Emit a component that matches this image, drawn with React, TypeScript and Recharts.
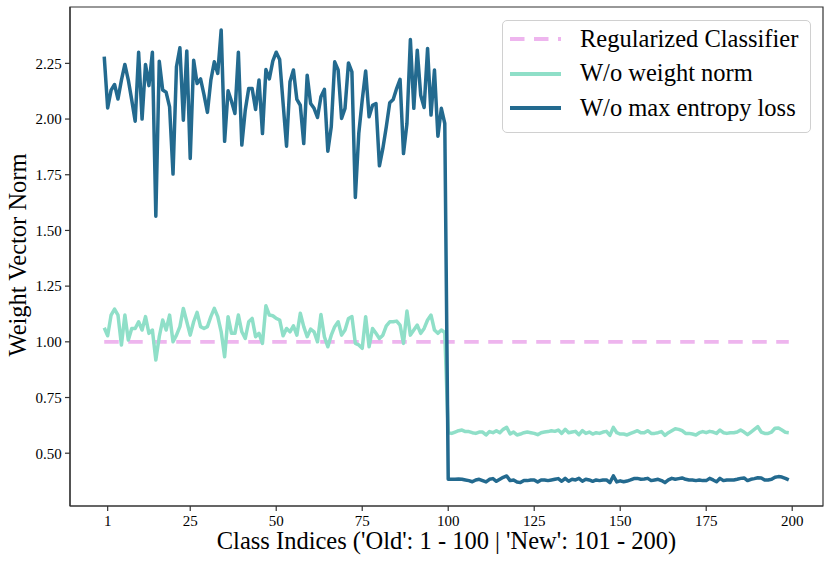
import React from 'react';
import { LineChart, Line, XAxis, YAxis, Legend, ReferenceArea, Label } from 'recharts';

// Class index 0..99 ("Old") — W/o max entropy loss
const darkOld = [
  2.28, 2.05, 2.13, 2.155, 2.09, 2.175, 2.245, 2.175, 2.085, 1.99,
  2.30, 2.0, 2.245, 2.15, 2.30, 1.564, 2.26, 2.13, 2.12, 2.055,
  1.753, 2.235, 2.32, 1.995, 2.306, 1.823, 2.264, 2.16, 2.18, 2.11,
  2.03, 2.175, 2.257, 2.205, 2.40, 1.90, 2.127, 2.08, 2.025, 2.30,
  1.883, 2.04, 2.137, 2.137, 2.043, 2.175, 1.935, 2.222, 2.18, 2.26,
  2.30, 2.267, 2.07, 1.878, 2.167, 2.22, 2.088, 2.062, 1.89, 2.197,
  2.07, 2.048, 2.007, 2.10, 2.133, 1.856, 1.965, 2.257, 2.22, 2.003,
  2.048, 2.252, 2.212, 1.648, 1.935, 2.085, 2.216, 2.01, 2.062, 2.07,
  1.79, 1.868, 1.965, 2.073, 2.088, 2.137, 2.178, 1.845, 1.98, 2.357,
  2.048, 2.309, 2.107, 2.052, 2.317, 2.018, 2.22, 1.923, 2.048, 1.98,
];
// Class index 100..199 ("New") — W/o max entropy loss
const darkNew = [
  0.383, 0.383, 0.383, 0.384, 0.383, 0.38, 0.377, 0.372, 0.38, 0.383,
  0.377, 0.371, 0.383, 0.386, 0.374, 0.383, 0.392, 0.398, 0.377, 0.38,
  0.371, 0.368, 0.377, 0.377, 0.38, 0.38, 0.371, 0.38, 0.38, 0.377,
  0.38, 0.383, 0.386, 0.374, 0.387, 0.374, 0.383, 0.38, 0.387, 0.374,
  0.383, 0.38, 0.374, 0.38, 0.377, 0.38, 0.38, 0.368, 0.398, 0.371,
  0.376, 0.372, 0.375, 0.38, 0.386, 0.387, 0.383, 0.384, 0.387, 0.377,
  0.38, 0.383, 0.377, 0.368, 0.38, 0.387, 0.383, 0.386, 0.389, 0.383,
  0.38, 0.38, 0.377, 0.38, 0.377, 0.377, 0.387, 0.38, 0.372, 0.387,
  0.377, 0.38, 0.38, 0.38, 0.383, 0.387, 0.389, 0.377, 0.383, 0.386,
  0.39, 0.389, 0.38, 0.38, 0.383, 0.392, 0.395, 0.393, 0.387, 0.38,
];
// W/o weight norm
const tealOld = [
  1.063, 1.027, 1.12, 1.147, 1.12, 0.986, 1.12, 1.008, 1.06, 1.06,
  1.09, 1.053, 1.113, 1.038, 1.053, 0.918, 1.023, 1.098, 1.053, 1.12,
  1.0, 1.03, 1.068, 1.15, 1.09, 1.03, 1.09, 1.132, 1.068, 1.06,
  1.068, 1.113, 1.15, 1.113, 1.045, 0.933, 1.113, 1.038, 1.038, 1.12,
  1.045, 1.015, 1.09, 1.105, 1.023, 1.038, 0.993, 1.162, 1.12, 1.117,
  1.105, 1.098, 1.027, 1.06, 1.045, 1.072, 1.03, 1.128, 1.068, 1.023,
  1.057, 1.045, 1.0, 1.123, 1.023, 0.978, 1.03, 1.068, 1.09, 1.03,
  1.053, 1.105, 1.113, 0.993, 0.986, 0.971, 1.113, 0.978, 1.06, 1.038,
  1.015, 1.03, 1.072, 1.09, 1.09, 1.093, 1.075, 0.993, 1.138, 1.03,
  1.053, 1.075, 1.038, 1.06, 1.098, 1.12, 1.053, 1.038, 1.053, 1.042,
];
const tealNew = [
  0.592, 0.589, 0.595, 0.601, 0.604, 0.597, 0.597, 0.592, 0.589, 0.595,
  0.595, 0.582, 0.597, 0.592, 0.601, 0.592, 0.607, 0.616, 0.586, 0.595,
  0.582, 0.586, 0.592, 0.595, 0.592, 0.589, 0.583, 0.592, 0.595, 0.597,
  0.601, 0.598, 0.604, 0.589, 0.607, 0.592, 0.595, 0.598, 0.583, 0.601,
  0.589, 0.595, 0.586, 0.592, 0.589, 0.595, 0.598, 0.58, 0.616, 0.592,
  0.586, 0.586, 0.582, 0.589, 0.595, 0.601, 0.592, 0.592, 0.601, 0.589,
  0.589, 0.592, 0.597, 0.58, 0.592, 0.601, 0.61, 0.607, 0.601, 0.589,
  0.589, 0.586, 0.582, 0.592, 0.597, 0.592, 0.598, 0.595, 0.589, 0.604,
  0.592, 0.589, 0.592, 0.592, 0.595, 0.604, 0.595, 0.583, 0.595, 0.607,
  0.619, 0.595, 0.589, 0.589, 0.595, 0.612, 0.613, 0.604, 0.594, 0.592,
];
// Regularized Classifier: constant norm
const REGULARIZED_NORM = 1.0;

const X_TICKS = [1, 25, 50, 75, 100, 125, 150, 175, 200];
const Y_TICKS = [0.5, 0.75, 1.0, 1.25, 1.5, 1.75, 2.0, 2.25];
const X_DOMAIN: [number, number] = [-9.95, 208.95];
const Y_DOMAIN: [number, number] = [0.263, 2.503];

const SERIES = [
  { key: 'reg', name: 'Regularized Classifier', color: '#eeb5ee', dash: '14.5 9.5' },
  { key: 'noNorm', name: 'W/o weight norm', color: '#8fdfc8', dash: undefined },
  { key: 'noEnt', name: 'W/o max entropy loss', color: '#236a8f', dash: undefined },
];

const darkAll = [...darkOld, ...darkNew];
const tealAll = [...tealOld, ...tealNew];
const data = darkAll.map((d, i) => ({
  x: i,
  reg: REGULARIZED_NORM,
  noNorm: tealAll[i],
  noEnt: d,
}));

const FONT = "'Liberation Serif', 'DejaVu Serif', 'Times New Roman', serif";
const AXIS_COLOR = '#333333';

const LegendBox = () => (
  <div
    style={{
      boxSizing: 'border-box',
      width: 309,
      height: 113,
      border: '1px solid #d0d0d0',
      borderRadius: 5,
      background: 'rgba(255,255,255,0.8)',
      paddingTop: 0.7,
      fontFamily: FONT,
      fontSize: 24.5,
      color: '#000',
    }}
  >
    {SERIES.map((s) => (
      <div key={s.key} style={{ display: 'flex', alignItems: 'center', height: 34.6 }}>
        <svg width={51} height={10} style={{ marginLeft: 7.3, display: 'block' }}>
          <line
            x1={0}
            y1={5}
            x2={51}
            y2={5}
            stroke={s.color}
            strokeWidth={3.8}
            strokeDasharray={s.dash}
          />
        </svg>
        <span style={{ marginLeft: 19, lineHeight: '34.6px', whiteSpace: 'nowrap' }}>{s.name}</span>
      </div>
    ))}
  </div>
);

export default function App() {
  return (
    <div style={{ position: 'absolute', left: 0, top: 0, width: 831, height: 563, background: '#fff' }}>
      <LineChart
        width={831}
        height={563}
        data={data}
        margin={{ top: 7, right: 8, bottom: 0, left: 0 }}
      >
        <ReferenceArea
          x1={X_DOMAIN[0]}
          x2={X_DOMAIN[1]}
          y1={Y_DOMAIN[0]}
          y2={Y_DOMAIN[1]}
          fill="none"
          stroke={AXIS_COLOR}
          strokeWidth={1.2}
          ifOverflow="visible"
        />
        <XAxis
          type="number"
          dataKey="x"
          domain={X_DOMAIN}
          allowDataOverflow
          ticks={X_TICKS}
          interval={0}
          height={57}
          tickSize={5}
          tickMargin={4}
          axisLine={{ stroke: AXIS_COLOR, strokeWidth: 1.2 }}
          tickLine={{ stroke: AXIS_COLOR, strokeWidth: 1.2 }}
          tick={{ fontSize: 15, fontFamily: FONT, fill: '#000' }}
        >
          <Label
            value="Class Indices ('Old': 1 - 100 | 'New': 101 - 200)"
            position="center"
            dy={6}
            fontSize={24.5}
            fontFamily={FONT}
            fill="#000"
          />
        </XAxis>
        <YAxis
          type="number"
          domain={Y_DOMAIN}
          allowDataOverflow
          ticks={Y_TICKS}
          interval={0}
          width={70}
          tickSize={5}
          tickMargin={3.3}
          tickFormatter={(v: number) => v.toFixed(2)}
          axisLine={{ stroke: AXIS_COLOR, strokeWidth: 1.2 }}
          tickLine={{ stroke: AXIS_COLOR, strokeWidth: 1.2 }}
          tick={{ fontSize: 15, fontFamily: FONT, fill: '#000' }}
        >
          <Label
            value="Weight Vector Norm"
            position="center"
            angle={-90}
            dx={-17.7}
            dy={-1.5}
            fontSize={24.5}
            fontFamily={FONT}
            fill="#000"
          />
        </YAxis>
        <Legend
          layout="vertical"
          align="center"
          verticalAlign="middle"
          content={() => <LegendBox />}
          wrapperStyle={{ position: 'absolute', left: 501.7, top: 20, width: 309, height: 113 }}
        />
        {SERIES.map((s) => (
          <Line
            key={s.key}
            type="linear"
            dataKey={s.key}
            name={s.name}
            stroke={s.color}
            strokeWidth={s.key === 'reg' ? 3.8 : 3.5}
            strokeDasharray={s.dash}
            strokeLinejoin="round"
            dot={false}
            activeDot={false}
            isAnimationActive={false}
          />
        ))}
      </LineChart>
    </div>
  );
}
